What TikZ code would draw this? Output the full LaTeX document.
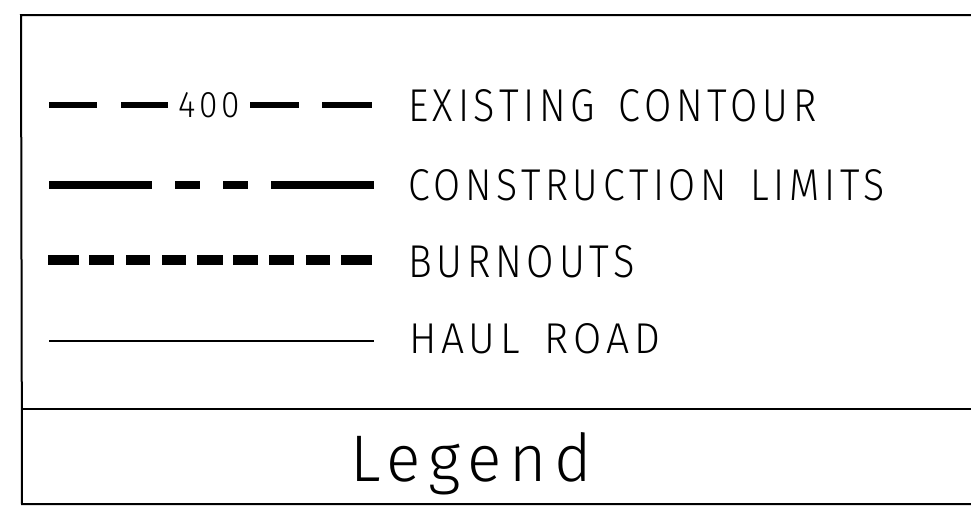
\documentclass[tikz,border=0pt]{standalone}
\usepackage{fontspec}
\newfontfamily\lf{Fira Sans Light}[LetterSpace=12]
\newcommand\trim{\kern-0.12em}
\newcommand\wgap{\ \kern0.2em}
\begin{document}
\begin{tikzpicture}[x=1pt,y=-1pt,
  frame/.style={line width=2pt,black},
  lbl/.style={anchor=base west,inner sep=0pt,outer sep=0pt},
  contour/.style={line width=6pt,line cap=butt},
  limits/.style={line width=8.5pt,line cap=butt},
  burn/.style={line width=10pt,line cap=butt},
  haul/.style={line width=2pt,line cap=butt}]
\useasboundingbox[fill=white] (0,0) rectangle (971,531);
% frame
\draw[frame] (980,15) -- (21,15) -- (22,504) -- (980,504);
\draw[frame] (22,409) -- (980,409);
% existing contour
\draw[contour] (49,105) -- (97,105);
\draw[contour] (121,105) -- (168,105);
\draw[contour] (250,105) -- (299,105);
\draw[contour] (322,105) -- (372,105);
\node[lbl] (n400) at (178,117) {\resizebox{58pt}{25pt}{\lf 400\trim}};
% construction limits
\draw[limits] (49,185) -- (152,185);
\draw[limits] (175,185) -- (200,185);
\draw[limits] (223,185) -- (248,185);
\draw[limits] (271,185) -- (374,185);
% burnouts
\foreach \a/\b in {48/79,89/114,126/150,162/186,197/223,233/258,269/294,306/330,341/372}
  \draw[burn] (\a,260) -- (\b,260);
% haul road
\draw[haul] (49,341) -- (374,341);
% labels
\node[lbl] (t1) at (408,121) {\resizebox{404pt}{32pt}{\lf EXISTING\wgap CONTOUR\trim}};
\node[lbl] (t2) at (408,200) {\resizebox{472pt}{31pt}{\lf CONSTRUCTION\wgap LIMITS\trim}};
\node[lbl] (t3) at (408,277) {\resizebox{222pt}{32pt}{\lf BURNOUTS\trim}};
\node[lbl] (t4) at (409,353) {\resizebox{246pt}{30pt}{\lf HAUL\wgap ROAD\trim}};
\node[lbl] (leg) at (350,481) {\resizebox{234pt}{49pt}{\lf Legend\trim}};
\end{tikzpicture}
\end{document}
